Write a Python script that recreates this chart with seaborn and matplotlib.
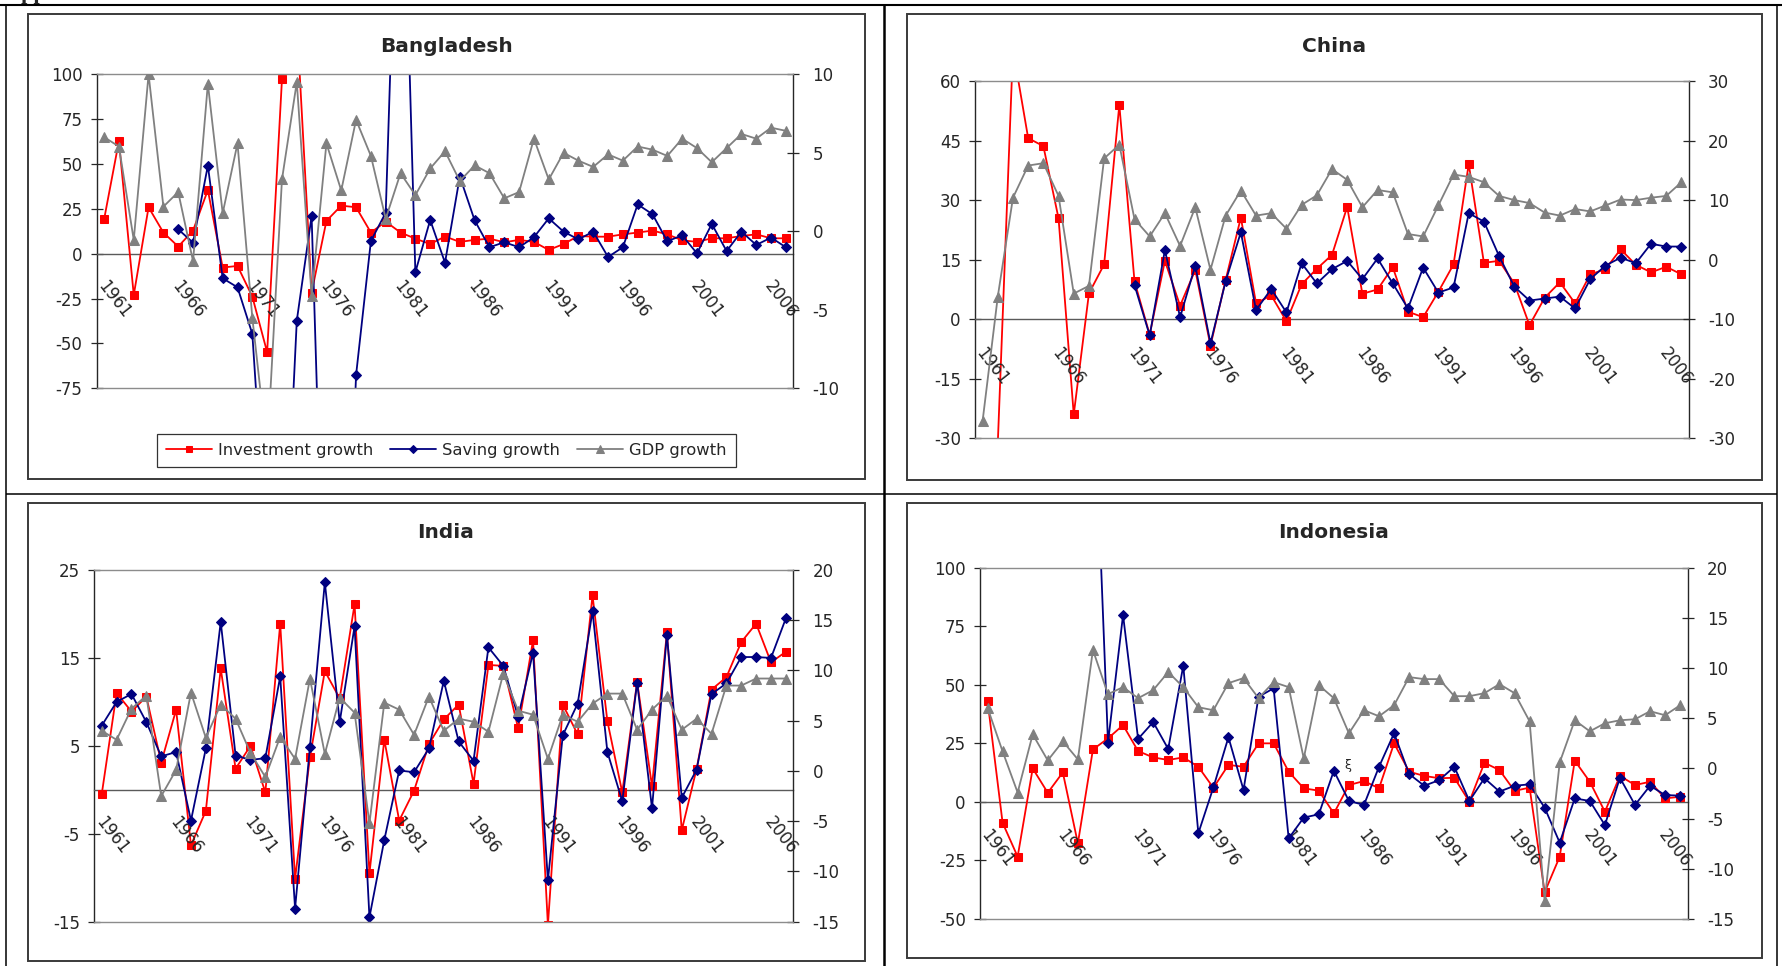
import numpy as np
import pandas as pd
import matplotlib
matplotlib.use("Agg")
import matplotlib.pyplot as plt
import seaborn as sns
from matplotlib.patches import Rectangle
from matplotlib.lines import Line2D
from matplotlib.ticker import StrMethodFormatter, NullFormatter
from matplotlib.transforms import offset_copy

# ---------------------------------------------------------------- data
years = list(range(1961, 2008))
year_labels = [str(y) for y in years[::5]]
series_names = ["Investment growth", "Saving growth", "GDP growth"]
N = None

bangladesh_investment = [19.2, 62.8, -23.0, 25.9, 11.8, 4.0, 12.9, 35.5, -7.7, -6.8, -23.9, -54.9, 97.2, 130,
                         -21.7, 18.3, 26.8, 25.9, 11.8, 17.9, 11.8, 8.4, 5.4, 9.6, 6.6, 7.7, 8.4, 6.4, 7.7, 6.6,
                         2.1, 5.4, 9.9, 9.5, 9.5, 10.8, 11.8, 12.9, 10.8, 7.5, 6.6, 8.6, 8.6, 9.9, 10.8, 8.6, 8.6]
bangladesh_saving = [N, N, N, N, N, 13.6, 6.2, 49.1, -13.7, -18.7, -44.7, -170, -210, -37.3, 21.0, -250, -280,
                     -67.6, 7.1, 22.9, 280, -10.3, 18.8, -5.0, 43.0, 18.6, 3.6, 6.4, 3.6, 9.2, 19.7, 12.3, 8.0,
                     12.3, -1.8, 3.6, 27.5, 22.0, 6.9, 10.3, 0.2, 16.6, 1.5, 12.3, 4.9, 9.0, 3.6]
bangladesh_gdp = [6.0, 5.4, -0.55, 10.0, 1.57, 2.5, -1.9, 9.4, 1.15, 5.6, -5.5, -14.0, 3.3, 9.5, -4.1, 5.6, 2.6,
                  7.1, 4.8, 0.8, 3.7, 2.3, 4.0, 5.1, 3.2, 4.2, 3.7, 2.1, 2.5, 5.9, 3.3, 5.0, 4.5, 4.1, 4.9, 4.5,
                  5.4, 5.2, 4.8, 5.9, 5.3, 4.4, 5.3, 6.2, 5.9, 6.6, 6.4]

china_investment = [N, -31.3, 68, 45.6, 43.6, 25.4, -24.0, 6.5, 13.8, 54.0, 9.5, -3.9, 14.7, 3.4, 12.4, -6.7,
                    9.9, 25.6, 4.0, 6.0, -0.5, 8.8, 12.7, 16.2, 28.3, 6.4, 7.5, 13.1, 1.9, 0.5, 6.9, 13.8, 39.1,
                    14.2, 14.7, 9.0, -1.5, 5.4, 9.3, 4.0, 11.3, 12.6, 17.6, 13.7, 11.8, 13.2, 11.3]
china_saving = [N, N, N, N, N, N, N, N, N, N, 8.6, -4.1, 17.4, 0.5, 13.5, -6.1, 9.6, 21.9, 2.3, 7.6, 1.7, 14.1,
                9.0, 12.6, 14.7, 10.1, 15.3, 9.0, 2.7, 13.0, 6.7, 8.0, 26.7, 24.6, 15.9, 8.2, 4.7, 5.2, 5.7, 2.7,
                10.1, 13.5, 15.5, 14.1, 19.0, 18.3, 18.3]
china_gdp = [-27.1, -6.2, 10.4, 15.8, 16.2, 10.7, -5.7, -4.4, 17.0, 19.3, 6.8, 3.9, 7.8, 2.3, 8.8, -1.7, 7.4,
             11.6, 7.4, 7.8, 5.2, 9.2, 10.8, 15.2, 13.4, 8.8, 11.7, 11.3, 4.3, 3.9, 9.1, 14.3, 13.9, 13.0, 10.7,
             10.0, 9.5, 7.9, 7.4, 8.5, 8.1, 9.1, 10.1, 10.0, 10.4, 10.7, 13.0]

india_investment = [-0.5, 11.0, 8.9, 10.6, 3.1, 9.1, -6.3, -2.4, 13.8, 2.4, 5.0, -0.3, 18.9, -10.1, 3.7, 13.5,
                    10.4, 21.1, -9.5, 5.7, -3.5, -0.1, 5.2, 8.0, 9.7, 0.7, 14.2, 14.1, 7.0, 17.0, -15.4, 9.7, 6.3,
                    22.1, 7.8, -0.3, 12.3, 0.4, 17.9, -4.6, 2.4, 11.4, 12.8, 16.8, 18.9, 14.5, 15.7]
india_saving = [7.3, 10.0, 10.9, 7.7, 3.8, 4.3, -3.5, 4.7, 19.1, 3.9, 3.4, 3.6, 12.9, -13.5, 4.9, 23.6, 7.7, 18.6,
                -14.5, -5.7, 2.2, 2.0, 4.7, 12.4, 5.5, 3.3, 16.2, 14.1, 8.3, 15.6, -10.3, 6.2, 9.8, 20.3, 4.3,
                -1.3, 12.2, -2.1, 17.6, -0.9, 2.3, 10.9, 12.1, 15.1, 15.1, 15.0, 19.5]
india_gdp = [4.0, 3.1, 6.2, 7.5, -2.5, 0.1, 7.8, 3.3, 6.6, 5.2, 1.8, -0.6, 3.4, 1.2, 9.2, 1.7, 7.3, 5.8, -5.2, 6.8,
             6.1, 3.6, 7.4, 4.0, 5.2, 4.9, 3.9, 9.7, 6.0, 5.6, 1.2, 5.6, 4.9, 6.7, 7.7, 7.7, 4.1, 6.1, 7.5, 4.1,
             5.2, 3.7, 8.5, 8.5, 9.2, 9.2, 9.2]

indonesia_investment = [43.2, -8.9, -23.4, 14.3, 3.9, 12.6, -17.7, 22.4, 27.1, 32.8, 21.7, 19.0, 17.9, 19.0,
                        15.0, 6.0, 15.8, 15.0, 25.0, 25.0, 12.9, 5.8, 4.8, -4.9, 7.2, 8.9, 5.8, 25.0, 12.9, 11.1,
                        10.1, 10.3, 0.1, 16.7, 13.6, 4.7, 6.1, -38.6, -23.4, 17.6, 8.6, -4.2, 11.1, 7.2, 8.6,
                        1.5, 2.2]
indonesia_saving = [N, N, N, N, N, N, N, 190, 25.3, 79.8, 26.9, 34.1, 22.6, 58.2, -13.4, 6.2, 27.6, 5.1, 44.9,
                    48.5, -15.6, -6.7, -5.3, 13.3, 0.4, -1.3, 15.0, 29.3, 11.9, 6.9, 9.3, 15.0, 0.4, 10.1, 4.4,
                    6.9, 7.5, -2.5, -17.4, 1.5, 0.4, -9.9, 10.3, -1.3, 6.9, 2.9, 2.7]
indonesia_gdp = [6.05, 1.7, -2.4, 3.4, 0.8, 2.7, 0.9, 11.8, 7.4, 8.1, 7.0, 7.8, 9.6, 8.1, 6.1, 5.8, 8.5, 9.0,
                 7.0, 8.6, 8.1, 1.0, 8.3, 7.0, 3.5, 5.8, 5.2, 6.3, 9.1, 8.9, 8.9, 7.2, 7.2, 7.5, 8.4, 7.5, 4.7,
                 -13.2, 0.6, 4.8, 3.7, 4.5, 4.8, 4.9, 5.7, 5.3, 6.3]

# ---------------------------------------------------------------- style
W, H = 1783, 966
sns.set_theme(style="white")
plt.rcParams["font.family"] = ["DejaVu Sans"]
plt.rcParams["axes.unicode_minus"] = False

RED, NAVY, GREY = "#ff0000", "#000080", "#808080"
AXIS_DARK = "#262626"
ZERO_LINE = "#5a5a5a"
FRAME = "#8c8c8c"
FS = 12.0

fig = plt.figure(figsize=(W / 100, H / 100), dpi=100)


def px_rect(l, t, r, b):
    return [l / W, 1 - b / H, (r - l) / W, (b - t) / H]


def as_array(values):
    return np.array([np.nan if v is None else v for v in values], dtype=float)


def panel(plot_box, chart_box, title, title_xy, inv, sav, gdp, left_lim, left_step, right_lim, right_step,
          label_drop):
    ax = fig.add_axes(px_rect(*plot_box))
    ax.set_facecolor("none")
    ax2 = ax.twinx()
    pos = np.arange(len(years))
    df = pd.DataFrame({"pos": pos, "inv": as_array(inv), "sav": as_array(sav), "gdp": as_array(gdp)})

    sns.lineplot(data=df, x="pos", y="inv", ax=ax, color=RED, linewidth=1.3, marker="s", markersize=5.3,
                 markeredgecolor=RED, estimator=None, sort=False, legend=False, label=series_names[0], zorder=3)
    sns.lineplot(data=df, x="pos", y="sav", ax=ax, color=NAVY, linewidth=1.3, marker="D", markersize=4.8,
                 markeredgecolor=NAVY, estimator=None, sort=False, legend=False, label=series_names[1], zorder=4)
    sns.lineplot(data=df, x="pos", y="gdp", ax=ax2, color=GREY, linewidth=1.3, marker="^", markersize=7,
                 markeredgecolor=GREY, estimator=None, sort=False, legend=False, label=series_names[2], zorder=3)

    ax.set_xlim(-0.5, len(years) - 0.5)
    ax.set_ylim(*left_lim)
    ax2.set_ylim(*right_lim)
    ax.set_yticks(np.arange(left_lim[0], left_lim[1] + 0.01, left_step))
    ax2.set_yticks(np.arange(right_lim[0], right_lim[1] + 0.01, right_step))
    ax.yaxis.set_major_formatter(StrMethodFormatter("{x:.0f}"))
    ax2.yaxis.set_major_formatter(StrMethodFormatter("{x:.0f}"))

    # tick marks between every fifth pair of years on the zero line
    ax.set_xticks(np.arange(4.5, len(years) - 1, 5))
    ax.xaxis.set_major_formatter(NullFormatter())
    ax.tick_params(axis="x", which="major", direction="inout", length=8, width=0.9, color=AXIS_DARK)
    ax.tick_params(axis="y", direction="inout", length=8.5, width=0.9, color=AXIS_DARK, labelsize=FS, pad=6,
                   left=True)
    ax2.tick_params(axis="y", direction="inout", length=8.5, width=0.9, color=AXIS_DARK, labelsize=FS,
                    pad=9.5, right=True)
    ax.set_xlabel("")
    ax.set_ylabel("")
    ax2.set_ylabel("")

    # slanted year labels hanging below the zero line
    below_zero = offset_copy(ax.transData, fig=fig, x=4, y=-label_drop, units="dots")
    for p, lab in zip(pos[::5], year_labels):
        ax.text(p, 0, lab, transform=below_zero, rotation=-52, rotation_mode="anchor", ha="left",
                va="top", fontsize=FS, clip_on=False)

    ax.spines["top"].set_visible(False)
    ax.spines["right"].set_visible(False)
    ax.spines["left"].set_color(AXIS_DARK)
    ax.spines["left"].set_linewidth(1.0)
    ax.spines["bottom"].set_position(("data", 0))
    ax.spines["bottom"].set_color(ZERO_LINE)
    ax.spines["bottom"].set_linewidth(1.0)
    ax2.spines["left"].set_visible(False)
    ax2.spines["right"].set_color(AXIS_DARK)
    ax2.spines["right"].set_linewidth(1.0)
    for side in ("top", "bottom"):
        ax2.spines[side].set_color(FRAME)
        ax2.spines[side].set_linewidth(1.0)

    l, t, r, b = chart_box
    fig.patches.append(Rectangle((l / W, 1 - b / H), (r - l) / W, (b - t) / H, transform=fig.transFigure,
                                 fill=False, edgecolor="#3a3a3a", linewidth=1.4))
    fig.text(title_xy[0] / W, 1 - title_xy[1] / H, title, ha="center", va="center",
             fontsize=14.5, fontweight="bold")
    return ax, ax2


ax_bd, ax_bd2 = panel((96.7, 74.3, 793.3, 388.3), (28.3, 13.6, 864.7, 479), "Bangladesh", (447, 47),
                      bangladesh_investment, bangladesh_saving, bangladesh_gdp, (-75, 100), 25, (-10, 10), 5,
                      23.5)
panel((975, 81, 1689, 438.3), (907.5, 13.6, 1761.7, 479.5), "China", (1334, 46),
      china_investment, china_saving, china_gdp, (-30, 60), 15, (-30, 30), 10, 25.5)
panel((94.3, 570, 793.3, 921.7), (28.3, 503.3, 865, 960.7), "India", (446, 533),
      india_investment, india_saving, india_gdp, (-15, 25), 10, (-15, 20), 5, 23.5)
panel((980, 567.7, 1687.7, 919), (907.5, 503.3, 1761.7, 958), "Indonesia", (1334, 533),
      indonesia_investment, indonesia_saving, indonesia_gdp, (-50, 100), 25, (-15, 20), 5, 24.5)

# legend of the first chart
handles = [ax_bd.lines[0], ax_bd.lines[1], ax_bd2.lines[0]]
leg = fig.legend(handles, series_names, loc="center", bbox_to_anchor=(446.3 / W, 1 - 450.3 / H), ncol=3,
                 frameon=True, fancybox=False, edgecolor="black", fontsize=11.8, handlelength=2.8,
                 handletextpad=0.4, columnspacing=1.0, borderpad=0.55, markerscale=0.8)
leg.get_frame().set_linewidth(0.9)

# stray glyph inside the Indonesia chart
fig.text(1348 / W, 1 - 765 / H, "ξ", fontsize=9, ha="center", va="center")

# document table rules around the four charts
def rule(x0, y0, x1, y1, lw):
    fig.add_artist(Line2D([x0 / W, x1 / W], [1 - y0 / H, 1 - y1 / H], transform=fig.transFigure,
                          color="black", linewidth=lw, solid_capstyle="butt"))


rule(0, 4.5, W, 4.5, 1.5)
rule(5.7, 4.5, 5.7, H, 1.1)
rule(884.5, 4.5, 884.5, H, 1.8)
rule(1777.5, 4.5, 1777.5, H, 1.1)
rule(5.7, 494.5, 1777.5, 494.5, 1.1)

# heading of the document, mostly above the page edge
fig.text(6 / W, 1 + 1.5 / H, "Appendix", ha="left", va="baseline", fontsize=16, fontweight="bold",
         family=["Liberation Serif"])

fig.savefig("out.png", dpi=100)
